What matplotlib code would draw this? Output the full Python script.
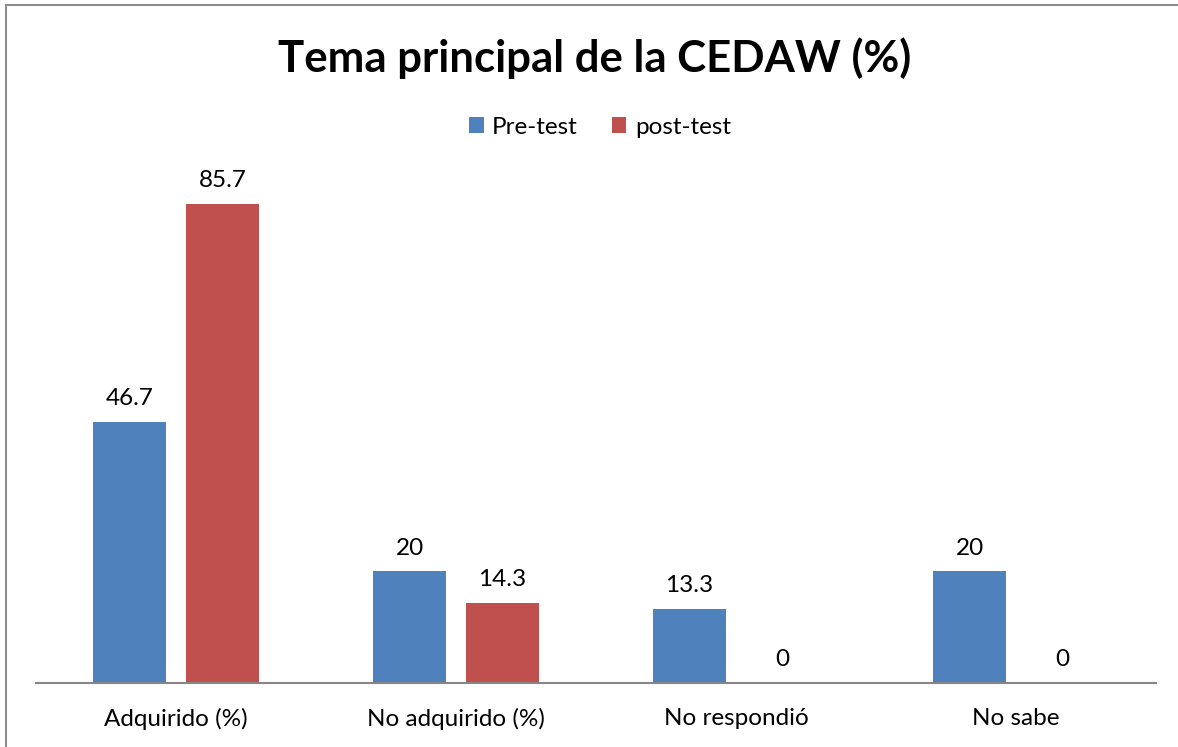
import matplotlib
matplotlib.use("Agg")
import matplotlib.pyplot as plt
from matplotlib.lines import Line2D
from matplotlib.patches import Patch
import numpy as np

categories = ["Adquirido (%)", "No adquirido (%)", "No respondió", "No sabe"]
pre_test = [46.7, 20, 13.3, 20]
post_test = [85.7, 14.3, 0, 0]
series_names = ["Pre-test", "post-test"]
title = "Tema principal de la CEDAW (%)"

BLUE = "#4F81BD"
RED = "#C0504D"
GRAY = "#868686"

plt.rcParams['font.family'] = ['Lato', 'DejaVu Sans']

W, H = 1178, 747
fig = plt.figure(figsize=(W / 100, H / 100), dpi=100)
ax = fig.add_axes([36 / W, 64 / H, 1120 / W, 559 / H])

x = np.arange(len(categories))
bw = 0.264
off = 0.166
b1 = ax.bar(x - off, pre_test, bw, color=BLUE, label=series_names[0])
b2 = ax.bar(x + off, post_test, bw, color=RED, label=series_names[1])

for bars, vals in ((b1, pre_test), (b2, post_test)):
    for rect, v in zip(bars, vals):
        ax.annotate(f"{v:g}", (rect.get_x() + rect.get_width() / 2, v),
                    xytext=(0, 12), textcoords="offset points",
                    ha="center", va="baseline", fontsize=17.5, color="black")

ax.set_xlim(-0.5, len(categories) - 0.5)
ax.set_ylim(0, 100)
ax.set_yticks([])
ax.set_xticks(x)
ax.set_xticklabels(categories, fontsize=17.5)
ax.tick_params(axis="x", length=0, pad=18)
for s in ("top", "left", "right"):
    ax.spines[s].set_visible(False)
ax.spines["bottom"].set_color(GRAY)
ax.spines["bottom"].set_linewidth(1.5)

fig.text(595 / W, 1 - 58 / H, title, ha="center", va="center",
         fontsize=31.5, fontweight="bold")

handles = [Patch(facecolor=BLUE), Patch(facecolor=RED)]
fig.legend(handles, series_names, loc="center", ncol=2,
           bbox_to_anchor=(600 / W, 1 - 127 / H), frameon=False,
           fontsize=17.5, handlelength=0.6, handleheight=0.6,
           handletextpad=0.35, columnspacing=1.4)

# outer border (top and left visible)
fig.add_artist(Line2D([5.5 / W, 1.0], [1 - 4.5 / H, 1 - 4.5 / H],
                      transform=fig.transFigure, color="#8C8C8C", lw=1.5))
fig.add_artist(Line2D([5.5 / W, 5.5 / W], [0, 1 - 4.5 / H],
                      transform=fig.transFigure, color="#8C8C8C", lw=1.5))

fig.savefig("out.png", dpi=100)
